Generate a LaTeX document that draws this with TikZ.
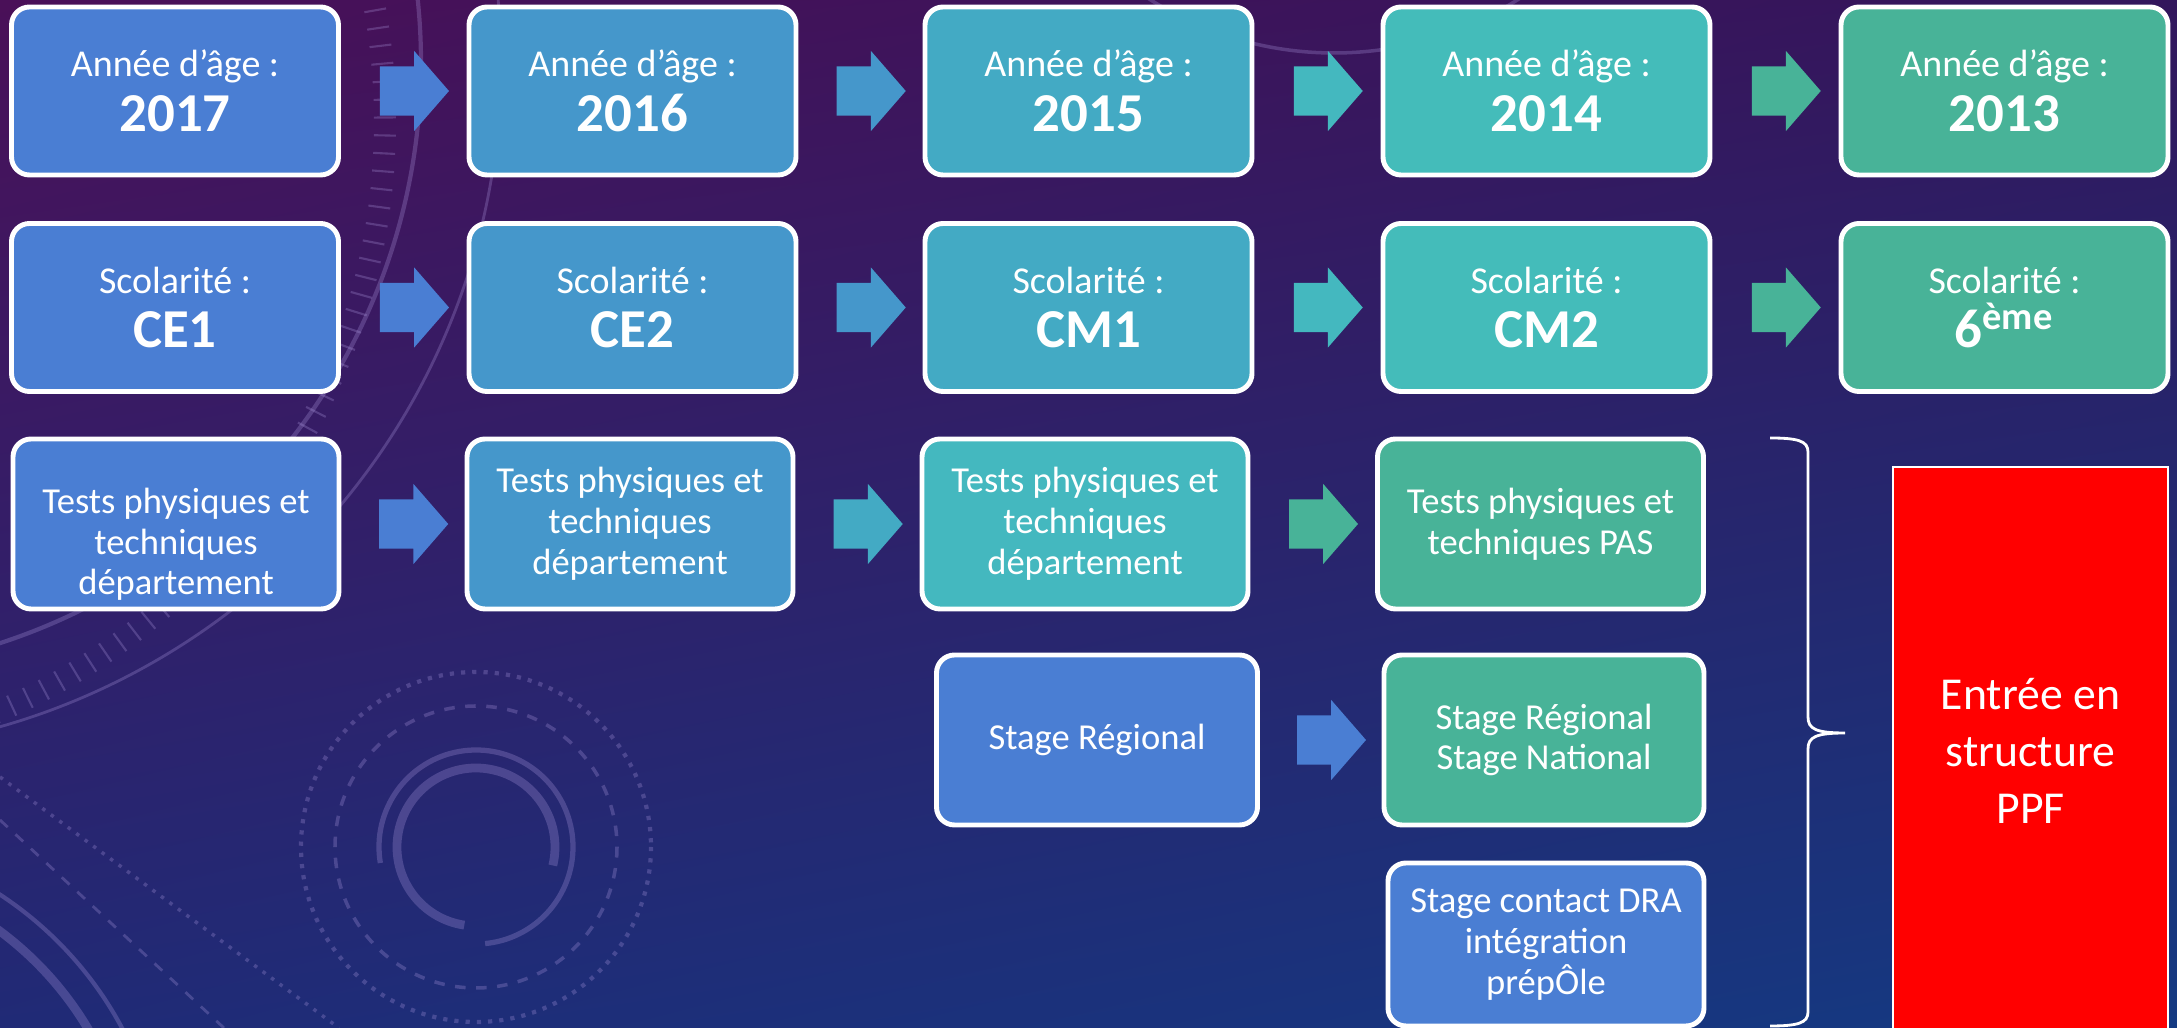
\documentclass[tikz,border=0pt]{standalone}
\usepackage{fontspec}
\setmainfont{Carlito}
\usetikzlibrary{positioning,shapes.arrows,shadings}
\definecolor{bgA}{RGB}{74,16,88}
\definecolor{bgB}{RGB}{50,22,92}
\definecolor{bgC}{RGB}{32,42,118}
\definecolor{bgD}{RGB}{20,58,130}
\definecolor{blF}{RGB}{74,126,211}
\definecolor{skF}{RGB}{69,151,203}
\definecolor{cyF}{RGB}{67,170,196}
\definecolor{tqF}{RGB}{68,188,186}
\definecolor{tqR}{RGB}{68,184,191}
\definecolor{grF}{RGB}{72,179,152}
\definecolor{ppF}{RGB}{255,0,0}
\definecolor{deco}{RGB}{175,155,225}

\begin{document}
\begin{tikzpicture}[
  x=0.1mm, y=-0.1mm,
  box/.style={rounded corners=1.8mm, draw=white, line width=1.4pt, text=white, align=center, inner sep=2pt, minimum width=32.7mm, minimum height=16.8mm},
  yr/.style={box, font=\fontsize{10.8}{15.6}\selectfont},
  tst/.style={box, font=\fontsize{10.4}{11.6}\selectfont, minimum width=32.6mm, minimum height=17mm},
  stg/.style={tst, minimum width=32mm},
  blk/.style={single arrow, fill=#1, draw=none, minimum height=6.9mm, single arrow head extend=1.55mm, single arrow tip angle=98, inner xsep=0pt, inner ysep=2.4mm},
  brc/.style={draw=white, line width=0.8pt},
  faint/.style={draw=deco, opacity=.28},
]

% ---------- background ----------
\useasboundingbox (0,0) rectangle (2177,1028);
\clip (0,0) rectangle (2177,1028);
\shade[upper left=bgA, upper right=bgB, lower left=bgC, lower right=bgD] (0,0) rectangle (2177,1028);

\draw[faint, line width=1.2pt] (-189,63) circle[radius=610];
\draw[faint, line width=0.8pt] (-189,63) circle[radius=690];
\draw[faint, line width=1pt] (1334,-290) circle[radius=343];
\foreach \a in {-10,-8.4,...,72} \draw[faint, line width=0.6pt] (-258,122) ++(\a:632) -- ++(\a:22);
\draw[faint, line width=2.5pt] (476,847) ++(98.5:79) arc[start angle=98.5, end angle=373.5, radius=79];
\draw[faint, line width=1.5pt] (476,847) ++(170.5:97) arc[start angle=170.5, end angle=444.6, radius=97];
\draw[faint, dashed, line width=1pt] (476,847) circle[radius=141];
\draw[faint, dotted, line width=1.2pt] (476,847) circle[radius=175];
\draw[faint, line width=1.2pt] (-200,1200) circle[radius=365];
\draw[faint, line width=2.5pt] (-200,1200) circle[radius=335];
\draw[faint, dashed, line width=0.8pt] (0,820) -- (224,1028);
\draw[faint, dotted, line width=1pt] (0,777) -- (339,1028);

% ---------- rows ----------
\node[yr, fill=blF] (y17) at (175,91) {Année d’âge :\\{\fontsize{15.6}{15.6}\selectfont\bfseries 2017}};
\node[yr, fill=skF] (y16) at (632.5,91) {Année d’âge :\\{\fontsize{15.6}{15.6}\selectfont\bfseries 2016}};
\node[yr, fill=cyF] (y15) at (1088.5,91) {Année d’âge :\\{\fontsize{15.6}{15.6}\selectfont\bfseries 2015}};
\node[yr, fill=tqF] (y14) at (1546.5,91) {Année d’âge :\\{\fontsize{15.6}{15.6}\selectfont\bfseries 2014}};
\node[yr, fill=grF] (y13) at (2004.5,91) {Année d’âge :\\{\fontsize{15.6}{15.6}\selectfont\bfseries 2013}};

\node[yr, fill=blF] (ce1) at (175,307.5) {Scolarité :\\{\fontsize{15.6}{15.6}\selectfont\bfseries CE1}};
\node[yr, fill=skF] (ce2) at (632.5,307.5) {Scolarité :\\{\fontsize{15.6}{15.6}\selectfont\bfseries CE2}};
\node[yr, fill=cyF] (cm1) at (1088.5,307.5) {Scolarité :\\{\fontsize{15.6}{15.6}\selectfont\bfseries CM1}};
\node[yr, fill=tqF] (cm2) at (1546.5,307.5) {Scolarité :\\{\fontsize{15.6}{15.6}\selectfont\bfseries CM2}};
\node[yr, fill=grF] (six) at (2004.5,307.5) {Scolarité :\\{\fontsize{15.6}{15.6}\selectfont\bfseries 6\textsuperscript{ème}}};

% first box has its text sitting lower
\node[tst, fill=blF] (dep1) at (176,524) {\raisebox{-2.2mm}[\height][\depth]{\begin{tabular}{@{}c@{}}Tests physiques et\\techniques\\département\end{tabular}}};
\node[tst, fill=skF] (dep2) at (630,524) {Tests physiques et\\techniques\\département};
\node[tst, fill=tqR] (dep3) at (1085,524) {Tests physiques et\\techniques\\département};
\node[tst, fill=grF] (pas) at (1540.5,524) {Tests physiques et\\techniques PAS};

\node[stg, fill=blF, minimum width=32.1mm] (reg) at (1097,740) {Stage Régional};
\node[stg, fill=grF] (nat) at (1544,740) {Stage Régional\\Stage National};
\node[stg, fill=blF, minimum width=31.6mm, minimum height=16.3mm] (dra) at (1546,944.5) {Stage contact DRA\\intégration\\prépÔle};

\node[draw=white, line width=0.8pt, fill=ppF, text=white, align=center, font=\fontsize{13}{16.2}\selectfont, minimum width=27.5mm, minimum height=56.8mm] (ppf) at (2030.5,751) {Entrée en\\structure\\PPF};

% ---------- arrows ----------
\path (y17) -- node[blk=blF] {} (y16);
\path (y16) -- node[blk=skF] {} (y15);
\path (y15) -- node[blk=tqR] {} (y14);
\path (y14) -- node[blk=grF] {} (y13);

\path (ce1) -- node[blk=blF] {} (ce2);
\path (ce2) -- node[blk=skF] {} (cm1);
\path (cm1) -- node[blk=tqR] {} (cm2);
\path (cm2) -- node[blk=grF] {} (six);

\path (dep1) -- node[blk=blF] {} (dep2);
\path (dep2) -- node[blk=cyF] {} (dep3);
\path (dep3) -- node[blk=grF] {} (pas);

\path (reg) -- node[blk=blF] {} (nat);

% brace gathering the last column
\coordinate (brt) at (1770,438);
\coordinate (tip) at (1845,733);
\coordinate (brb) at (1770,1026);
\draw[brc] (brt) .. controls (1798,438) and (1808,441) .. (1808,452) -- (1808,717)
  .. controls (1808,729) and (1816,733) .. (tip)
  .. controls (1816,733) and (1808,737) .. (1808,749) -- (1808,1012)
  .. controls (1808,1023) and (1798,1026) .. (brb);

\end{tikzpicture}
\end{document}
